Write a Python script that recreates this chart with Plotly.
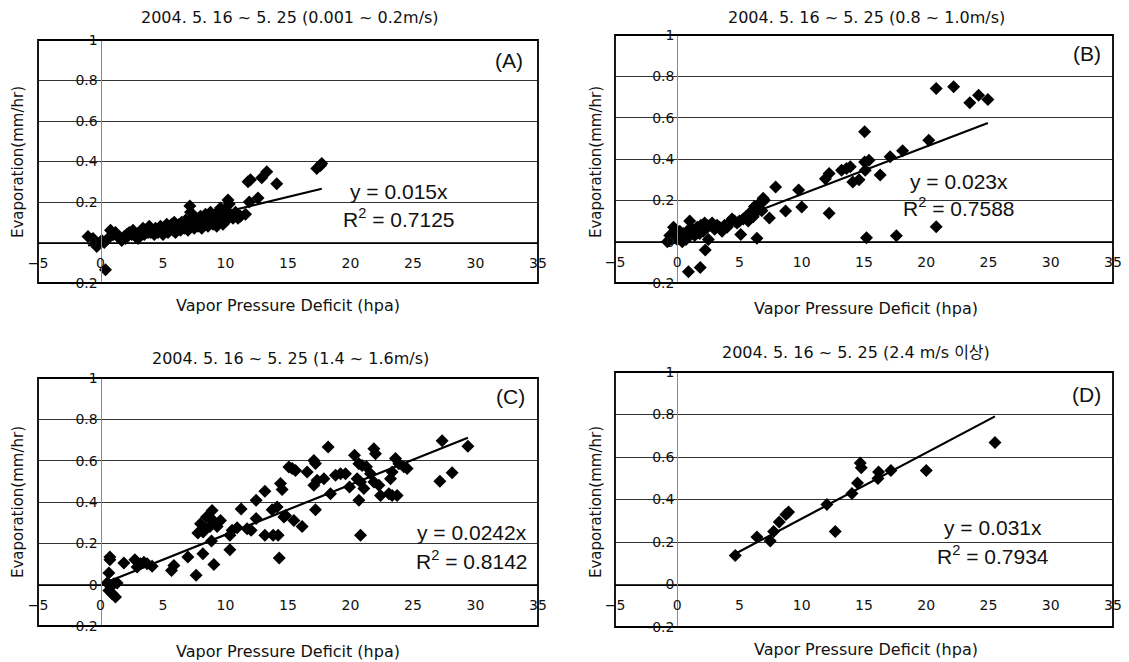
import plotly.graph_objects as go

# ---------------- data ----------------
A_vpd = [-1.0, -0.6, -0.3, 0.1, 0.4, 0.3, 0.6, 0.8, 1.0, 1.2, 1.4, 1.6, 1.7, 1.9, 2.1, 2.3, 2.5, 2.6, 2.8, 3.0,
         3.2, 3.4, 3.6, 3.8, 3.9, 4.1, 4.3, 4.4, 4.6, 4.8, 4.9, 5.0, 5.1, 5.3, 5.4, 5.5, 5.6, 5.8, 5.9, 6.0,
         6.1, 6.2, 6.3, 6.4, 6.5, 6.6, 6.7, 6.8, 6.9, 7.0, 7.1, 7.15, 7.2, 7.3, 7.4, 7.5, 7.6, 7.7, 7.8, 7.9,
         8.0, 8.1, 8.2, 8.3, 8.4, 8.5, 8.6, 8.7, 8.8, 8.9, 9.0, 9.1, 9.2, 9.3, 9.4, 9.5, 9.6, 9.7, 9.8, 9.9,
         10.0, 10.1, 10.2, 10.3, 10.4, 10.6, 10.8, 11.0, 11.2, 11.6, 11.8, 12.0, 11.9, 12.6, 12.9, 13.3, 14.1,
         17.3, 17.6, 17.7, 4.0, 4.7, 5.2, 5.7, 6.35, 6.75, 2.0, 2.7, 3.5, 8.25, 8.65, 9.15]
A_evap = [0.03, 0.02, -0.02, 0.01, -0.135, 0.0, 0.02, 0.06, 0.04, 0.05, 0.03, 0.02, 0.01, 0.03, 0.04, 0.05, 0.04, 0.06, 0.03, 0.02,
          0.05, 0.07, 0.06, 0.05, 0.08, 0.06, 0.04, 0.07, 0.05, 0.08, 0.06, 0.04, 0.07, 0.09, 0.05, 0.07, 0.08, 0.06, 0.10, 0.05,
          0.08, 0.07, 0.09, 0.06, 0.10, 0.08, 0.07, 0.11, 0.09, 0.06, 0.08, 0.18, 0.15, 0.12, 0.10, 0.07, 0.09, 0.12, 0.08, 0.10,
          0.13, 0.07, 0.11, 0.09, 0.14, 0.12, 0.08, 0.10, 0.15, 0.13, 0.09, 0.11, 0.14, 0.08, 0.12, 0.10, 0.17, 0.15, 0.09, 0.13,
          0.16, 0.11, 0.21, 0.19, 0.14, 0.12, 0.15, 0.12, 0.13, 0.14, 0.30, 0.31, 0.20, 0.22, 0.32, 0.35, 0.29,
          0.365, 0.38, 0.39, 0.05, 0.06, 0.08, 0.09, 0.08, 0.10, 0.02, 0.05, 0.04, 0.10, 0.12, 0.10]

B_vpd = [-0.8, -0.6, -0.4, -0.3, -0.2, 0.0, 0.1, 0.2, 0.3, 0.4, 0.5, 0.6, 0.7, 0.8, 0.9, 1.0, 1.1, 1.2, 1.4, 1.5,
         1.6, 1.8, 1.85, 1.9, 2.0, 2.1, 2.2, 2.25, 2.4, 2.5, 2.6, 2.8, 3.0, 3.2, 3.4, 3.6, 3.8, 4.0, 4.2, 4.4,
         4.6, 4.8, 5.0, 5.1, 5.3, 5.5, 5.7, 5.9, 6.0, 6.1, 6.2, 6.3, 6.4, 6.5, 6.6, 6.7, 6.8, 6.9, 7.0, 7.4,
         7.9, 8.7, 9.75, 10.0, 11.9, 12.2, 12.2, 13.2, 13.6, 13.9, 14.1, 14.6, 15.05, 15.05, 15.1, 15.2, 15.4, 16.3, 17.1, 17.6,
         18.1, 20.2, 20.8, 20.8, 22.2, 23.5, 24.2, 24.95]
B_evap = [0.0, 0.03, 0.02, 0.07, 0.04, 0.01, 0.03, 0.05, 0.02, 0.0, 0.04, 0.03, 0.01, 0.05, -0.145, 0.10, 0.04, 0.06, 0.03, 0.05,
          0.07, 0.04, -0.125, 0.08, 0.06, 0.05, 0.09, -0.04, 0.07, 0.01, 0.08, 0.09, 0.06, 0.08, 0.07, 0.05, 0.08, 0.07, 0.09, 0.11,
          0.10, 0.09, 0.10, 0.035, 0.11, 0.12, 0.10, 0.13, 0.15, 0.12, 0.17, 0.14, 0.016, 0.18, 0.16, 0.19, 0.15, 0.21, 0.20, 0.115,
          0.265, 0.148, 0.25, 0.168, 0.305, 0.33, 0.137, 0.345, 0.354, 0.362, 0.289, 0.30, 0.532, 0.386, 0.346, 0.019, 0.394, 0.322, 0.411, 0.029,
          0.44, 0.491, 0.741, 0.072, 0.749, 0.672, 0.709, 0.688]

C_vpd = [0.75, 0.75, 0.67, 0.53, 0.8, 1.07, 0.67, 0.93, 1.2, 1.33, 1.87, 2.75, 2.93, 3.2, 3.47, 3.73, 4.13, 5.68, 5.87, 6.99,
         7.65, 7.79, 8.0, 8.21, 8.48, 8.93, 8.75, 9.01, 9.33, 9.6, 8.19, 8.88, 9.07, 10.35, 10.35, 10.53, 11.25, 10.93, 11.73, 12.05,
         12.45, 12.45, 13.15, 13.15, 13.81, 14.21, 14.3, 13.73, 14.13, 14.67, 14.4, 14.53, 15.07, 20.8, 14.8, 15.47, 16.13, 17.2, 15.33, 15.6,
         16.53, 17.07, 17.2, 18.21, 17.07, 17.33, 17.87, 18.4, 18.8, 19.2, 19.6, 19.92, 20.32, 20.53, 20.8, 21.07, 20.67, 20.67, 20.93, 21.28,
         21.6, 21.87, 22.0, 21.87, 22.27, 22.4, 23.07, 23.33, 23.73, 23.33, 23.6, 23.87, 23.2, 24.27, 24.53, 27.33, 27.15, 28.13, 29.39]
C_evap = [0.134, 0.121, 0.056, 0.008, -0.004, 0.004, -0.028, -0.044, -0.06, 0.008, 0.105, 0.121, 0.085, 0.101, 0.109, 0.101, 0.089, 0.069, 0.093, 0.134,
          0.045, 0.25, 0.295, 0.255, 0.327, 0.359, 0.282, 0.311, 0.282, 0.311, 0.15, 0.211, 0.098, 0.169, 0.239, 0.263, 0.366, 0.276, 0.271, 0.263,
          0.32, 0.408, 0.452, 0.239, 0.239, 0.239, 0.129, 0.362, 0.376, 0.328, 0.49, 0.46, 0.569, 0.239, 0.335, 0.311, 0.282, 0.362, 0.562, 0.553,
          0.545, 0.601, 0.586, 0.666, 0.481, 0.505, 0.513, 0.44, 0.529, 0.537, 0.537, 0.473, 0.626, 0.513, 0.497, 0.465, 0.408, 0.585, 0.577, 0.57,
          0.537, 0.658, 0.634, 0.497, 0.481, 0.432, 0.44, 0.432, 0.432, 0.545, 0.61, 0.585, 0.513, 0.57, 0.562, 0.696, 0.50, 0.542, 0.67]

D_vpd = [4.66, 6.4, 7.47, 7.74, 8.19, 8.73, 8.94, 12.02, 12.69, 14.03, 14.48, 14.7, 14.78, 16.17, 16.12, 17.16, 20.0, 25.52]
D_evap = [0.137, 0.224, 0.205, 0.25, 0.294, 0.33, 0.341, 0.377, 0.25, 0.428, 0.478, 0.572, 0.549, 0.53, 0.499, 0.537, 0.537, 0.668]

slopes = [0.015, 0.023, 0.0242, 0.031]
r_squared = ["0.7125", "0.7588", "0.8142", "0.7934"]
slope_labels = ["0.015", "0.023", "0.0242", "0.031"]
panel_labels = ["(A)", "(B)", "(C)", "(D)"]
titles = ["2004. 5. 16 ~ 5. 25 (0.001 ~ 0.2m/s)",
          "2004. 5. 16 ~ 5. 25 (0.8 ~ 1.0m/s)",
          "2004. 5. 16 ~ 5. 25 (1.4 ~ 1.6m/s)",
          "2004. 5. 16 ~ 5. 25 (2.4 m/s 이상)"]
x_ticks = [-5, 0, 5, 10, 15, 20, 25, 30, 35]
y_ticks = [-0.2, 0, 0.2, 0.4, 0.6, 0.8, 1]
y_ticktext = ["-0.2", "0", "0.2", "0.4", "0.6", "0.8", "1"]
x_title = "Vapor Pressure Deficit (hpa)"
y_title = "Evaporation(mm/hr)"

# ---------------- layout geometry (window pixels) ----------------
# The page body has an 8 px margin, so the figure is drawn 8 px in and shrunk by 8 px.
OFF = 8
W, H = 1129 - OFF, 662 - OFF
boxes = [(38, 538, 40, 283), (615, 1113, 35, 283), (38, 538, 378, 626), (615, 1113, 372, 627)]
title_pos = [(290, 17), (866, 17), (290, 358), (856, 353)]
xtitle_pos = [(288, 305), (866, 308), (288, 651), (866, 649)]
ytitle_pos = [(18, 162), (596, 162), (18, 502), (596, 502)]
label_pos = [(509, 60), (1087, 54), (510, 396), (1086, 394)]
eq_pos = [(399, 192, 218), (959, 181, 207), (472, 532, 560), (993, 527, 555)]


def px(xp):
    return (xp - OFF) / W


def py(yp):
    return 1 - (yp - OFF) / H


data = [(A_vpd, A_evap), (B_vpd, B_evap), (C_vpd, C_evap), (D_vpd, D_evap)]

TEXT_FONT = "DejaVu Sans, Noto Sans CJK KR"
EQ_FONT = "Liberation Sans, Arial"
TICK_FONT = dict(family=TEXT_FONT, size=14, color="#111")

fig = go.Figure()
annotations = []
shapes = []
layout = {}

for i, ((xv, yv), (l, r, t, b)) in enumerate(zip(data, boxes)):
    sx = "" if i == 0 else str(i + 1)
    xa, ya = "x" + sx, "y" + sx
    fig.add_trace(go.Scatter(x=xv, y=yv, mode="markers", xaxis=xa, yaxis=ya,
                             marker=dict(symbol="diamond", size=10, color="black"),
                             showlegend=False))
    x_lo, x_hi = min(xv), max(xv)
    fig.add_trace(go.Scatter(x=[x_lo, x_hi], y=[slopes[i] * x_lo, slopes[i] * x_hi],
                             mode="lines", xaxis=xa, yaxis=ya,
                             line=dict(color="black", width=2.2), showlegend=False))
    # axes cross at the origin: x axis at y=0, y axis at x=0
    y0_px = t + (1 - 0) / 1.2 * (b - t)
    x0_px = l + 5 / 40 * (r - l)
    layout["xaxis" + sx] = dict(domain=[px(l), px(r)], range=[-5, 35], anchor="free",
                                position=py(y0_px), tickvals=x_ticks,
                                showline=True, linecolor="black", linewidth=1,
                                showgrid=False, zeroline=False,
                                ticks="outside", ticklen=8, tickcolor="rgba(0,0,0,0)",
                                tickfont=TICK_FONT, automargin=False, fixedrange=True)
    layout["yaxis" + sx] = dict(domain=[py(b), py(t)], range=[-0.2, 1], anchor="free",
                                position=px(x0_px), tickvals=y_ticks, ticktext=y_ticktext,
                                showline=True, linecolor="#8a8a8a", linewidth=1,
                                showgrid=True, gridcolor="#333333", gridwidth=1,
                                zeroline=False, ticks="", tickfont=TICK_FONT,
                                automargin=False, fixedrange=True)
    shapes.append(dict(type="rect", xref=xa + " domain", yref=ya + " domain",
                       x0=0, x1=1, y0=0, y1=1, line=dict(color="black", width=1.8)))

    tx, ty = title_pos[i]
    annotations.append(dict(text=titles[i], x=px(tx), y=py(ty), xref="paper", yref="paper",
                            showarrow=False, xanchor="center", yanchor="middle",
                            font=dict(family=TEXT_FONT, size=16, color="#111")))
    tx, ty = xtitle_pos[i]
    annotations.append(dict(text=x_title, x=px(tx), y=py(ty), xref="paper", yref="paper",
                            showarrow=False, xanchor="center", yanchor="middle",
                            font=dict(family=TEXT_FONT, size=16, color="#111")))
    tx, ty = ytitle_pos[i]
    annotations.append(dict(text=y_title, x=px(tx), y=py(ty), xref="paper", yref="paper",
                            showarrow=False, xanchor="center", yanchor="middle", textangle=-90,
                            font=dict(family=TEXT_FONT, size=15, color="#111")))
    tx, ty = label_pos[i]
    annotations.append(dict(text=panel_labels[i], x=px(tx), y=py(ty), xref="paper", yref="paper",
                            showarrow=False, xanchor="center", yanchor="middle",
                            font=dict(family=EQ_FONT, size=21, color="#111")))
    ex, ey1, ey2 = eq_pos[i]
    annotations.append(dict(text="y = " + slope_labels[i] + "x", x=px(ex), y=py(ey1),
                            xref="paper", yref="paper", showarrow=False,
                            xanchor="center", yanchor="middle",
                            font=dict(family=EQ_FONT, size=21, color="#111")))
    annotations.append(dict(text="R<sup>2</sup> = " + r_squared[i], x=px(ex), y=py(ey2),
                            xref="paper", yref="paper", showarrow=False,
                            xanchor="center", yanchor="middle",
                            font=dict(family=EQ_FONT, size=21, color="#111")))

fig.update_layout(width=W, height=H, margin=dict(l=0, r=0, t=0, b=0),
                  paper_bgcolor="white", plot_bgcolor="white",
                  annotations=annotations, shapes=shapes, **layout)

fig.write_html("out.html")
